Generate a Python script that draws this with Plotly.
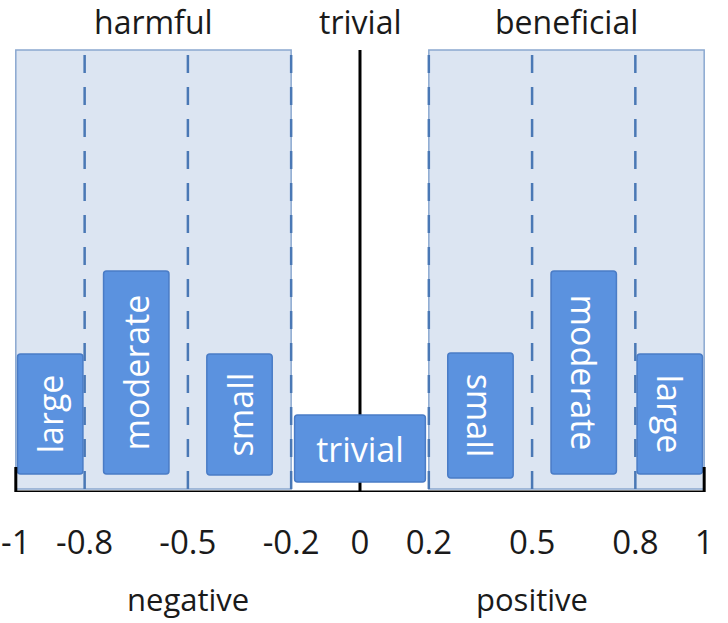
import plotly.graph_objects as go

# ---- data ----
thresholds = [-1, -0.8, -0.5, -0.2, 0, 0.2, 0.5, 0.8, 1]
tick_labels = ["-1", "-0.8", "-0.5", "-0.2", "0", "0.2", "0.5", "0.8", "1"]

neg_labels = ["large", "moderate", "small"]
neg_centers = [-0.9, -0.65, -0.35]
neg_heights = [1.20, 2.03, 1.21]
neg_bases = [0.18, 0.18, 0.17]

triv_labels = ["trivial"]
triv_centers = [0.0]
triv_heights = [0.67]
triv_bases = [0.10]

pos_labels = ["small", "moderate", "large"]
pos_centers = [0.35, 0.65, 0.9]
pos_heights = [1.25, 2.03, 1.20]
pos_bases = [0.14, 0.18, 0.18]

region_titles = ["harmful", "trivial", "beneficial"]
region_title_x = [-0.6, 0.0, 0.6]
region_spans = [(-1, -0.2), (0.2, 1)]
region_bottom = 0.03
region_top = 4.42
dashed_at = [-0.8, -0.5, -0.2, 0.2, 0.5, 0.8]

side_labels = ["negative", "positive"]
side_label_x = [-0.5, 0.5]

# ---- style ----
FONT = "Open Sans"
BAR_COLOR = "#5b92df"
BAR_LINE = "#4a7cc6"
REGION_FILL = "#dce5f2"
REGION_LINE = "#8aa8d0"
DASH_COLOR = "#4a78b5"
Y_MAX = 4.92

fig = go.Figure()

shapes = []
for x0, x1 in region_spans:
    shapes.append(dict(type="rect", xref="x", yref="y", x0=x0, x1=x1,
                       y0=region_bottom, y1=region_top, layer="below",
                       fillcolor=REGION_FILL, line=dict(color=REGION_LINE, width=1.5)))
for xv in dashed_at:
    shapes.append(dict(type="line", xref="x", yref="y", x0=xv, x1=xv,
                       y0=region_bottom, y1=region_top, layer="below",
                       line=dict(color=DASH_COLOR, width=2.5, dash="18px,14px")))
shapes.append(dict(type="line", xref="x", yref="y", x0=0, x1=0,
                   y0=0, y1=region_top, layer="below",
                   line=dict(color="black", width=3)))

def add_bars(labels, centers, heights, bases, width, angle):
    fig.add_trace(go.Bar(
        x=centers, y=heights, base=bases, width=width,
        text=labels, textposition="inside", insidetextanchor="middle",
        textangle=angle, constraintext="none",
        textfont=dict(family=FONT, size=34, color="white"),
        marker=dict(color=BAR_COLOR, line=dict(color=BAR_LINE, width=1.5),
                    cornerradius=3),
        hoverinfo="skip", showlegend=False))

add_bars(neg_labels, neg_centers, neg_heights, neg_bases, 0.19, -90)
add_bars(triv_labels, triv_centers, triv_heights, triv_bases, 0.38, 0)
add_bars(pos_labels, pos_centers, pos_heights, pos_bases, 0.19, 90)

# axis line with end ticks
fig.add_trace(go.Scatter(x=[thresholds[0], thresholds[-1]], y=[0, 0], mode="lines",
                         line=dict(color="black", width=3), hoverinfo="skip",
                         showlegend=False, cliponaxis=False))
for xv in (thresholds[0], thresholds[-1]):
    fig.add_trace(go.Scatter(x=[xv, xv], y=[0.25, -0.25], mode="lines",
                             line=dict(color="black", width=3), hoverinfo="skip",
                             showlegend=False, cliponaxis=False))

annotations = []
for t, xv in zip(region_titles, region_title_x):
    annotations.append(dict(x=xv, y=(Y_MAX - 0.22) / Y_MAX, xref="x", yref="paper",
                            text=t, showarrow=False,
                            font=dict(family=FONT, size=32, color="#1a1a1a"),
                            xanchor="center", yanchor="middle"))
for t, xv in zip(side_labels, side_label_x):
    annotations.append(dict(x=xv, y=-1.07 / Y_MAX, xref="x", yref="paper",
                            text=t, showarrow=False,
                            font=dict(family=FONT, size=31, color="#1a1a1a"),
                            xanchor="center", yanchor="middle"))

fig.update_layout(
    width=728, height=623,
    margin=dict(l=0, r=0, t=0, b=131),
    paper_bgcolor="white", plot_bgcolor="white",
    shapes=shapes, annotations=annotations,
    barmode="overlay",
    xaxis=dict(range=[-1.0459, 1.0692], tickvals=thresholds, ticktext=tick_labels,
               showgrid=False, zeroline=False, showline=False, ticks="",
               tickfont=dict(family=FONT, size=33, color="#1a1a1a"),
               ticklabelstandoff=28, automargin=False, fixedrange=True),
    yaxis=dict(range=[0, Y_MAX], showgrid=False, zeroline=False, showline=False,
               showticklabels=False, ticks="", automargin=False, fixedrange=True),
)

fig.write_html("out.html", config={"displayModeBar": False, "staticPlot": True},
               post_script="document.body.style.margin='0';document.body.style.overflow='hidden';")
